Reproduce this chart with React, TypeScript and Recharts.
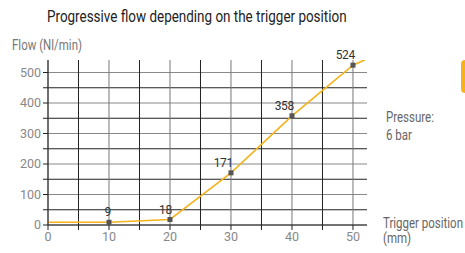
import {
  ComposedChart,
  Line,
  Scatter,
  XAxis,
  YAxis,
  ReferenceLine,
  LabelList,
} from "recharts";

const positions = [0, 10, 20, 30, 40, 50, 52];
const flows = [9, 9, 18, 171, 358, 524, 542];
const markedPositions = [10, 20, 30, 40, 50];
const markedFlows = [9, 18, 171, 358, 524];
const xTicks = [0, 5, 10, 15, 20, 25, 30, 35, 40, 45, 50];
const yTicks = [0, 50, 100, 150, 200, 250, 300, 350, 400, 450, 500];

const FONT = 'Roboto, "Noto Sans", sans-serif';

const lineData = positions.map((x, i) => ({ x, flow: flows[i] }));
const markData = markedPositions.map((x, i) => ({ x, flow: markedFlows[i] }));

const Square = (props: any) => (
  <rect x={props.cx - 2.5} y={props.cy - 2.5} width={5} height={5} fill="#555" />
);

const PointLabel = (props: any) => (
  <text
    x={props.x + props.width / 2 + 2}
    y={props.y + props.height / 2 - 6}
    textAnchor="end"
    fontSize={12}
    fill="#333"
    fontFamily={FONT}
    letterSpacing={-0.3}
  >
    {props.value}
  </text>
);

const narrow = (left: number, top: number, size: number, color: string): any => ({
  position: "absolute",
  left,
  top,
  fontSize: size,
  color,
  whiteSpace: "nowrap",
  transform: "scaleX(0.82)",
  transformOrigin: "left top",
});

export default function App() {
  return (
    <div
      style={{
        position: "absolute",
        left: 0,
        top: 0,
        width: 465,
        height: 253,
        background: "#fff",
        fontFamily: FONT,
        overflow: "hidden",
      }}
    >
      <div style={narrow(47, 7, 16.4, "#222")}>Progressive flow depending on the trigger position</div>
      <div style={narrow(12, 37, 14, "#777")}>Flow (Nl/min)</div>
      <div style={{ ...narrow(386, 108, 14, "#666"), lineHeight: "18px" }}>
        Pressure:
        <br />6 bar
      </div>
      <div style={{ ...narrow(383, 216, 14, "#666"), lineHeight: "15px" }}>
        Trigger position
        <br />(mm)
      </div>
      <div
        style={{
          position: "absolute",
          left: 461,
          top: 60,
          width: 10,
          height: 33,
          background: "#F5B21B",
          borderRadius: 4,
        }}
      />
      <ComposedChart
        width={465}
        height={253}
        margin={{ top: 60, right: 98, bottom: 0, left: 0 }}
        style={{ position: "absolute", left: 0, top: 0 }}
      >
        {yTicks.map((v) => (
          <ReferenceLine
            key={"h" + v}
            y={v}
            stroke={v % 100 === 0 ? "#888" : "#222"}
            strokeWidth={1}
          />
        ))}
        {xTicks.map((v) => (
          <ReferenceLine
            key={"v" + v}
            x={v}
            stroke={v % 10 === 0 ? "#777" : "#222"}
            strokeWidth={1}
          />
        ))}
        <XAxis
          type="number"
          dataKey="x"
          domain={[0, 52.3]}
          ticks={xTicks}
          height={28}
          tickSize={5}
          tickLine={{ stroke: "#222" }}
          axisLine={{ stroke: "#222" }}
          tickFormatter={(v: number) => (v % 10 === 0 ? String(v) : "")}
          tick={{ fill: "#888", fontSize: 12.5, fontFamily: FONT }}
          allowDuplicatedCategory={false}
        />
        <YAxis
          type="number"
          dataKey="flow"
          domain={[0, 541]}
          ticks={yTicks}
          width={48}
          tickSize={5}
          tickLine={{ stroke: "#222" }}
          axisLine={{ stroke: "#222" }}
          tickFormatter={(v: number) => (v % 100 === 0 ? String(v) : "")}
          tick={{ fill: "#888", fontSize: 12.5, fontFamily: FONT }}
          allowDataOverflow
        />
        <Line
          data={lineData}
          dataKey="flow"
          type="linear"
          stroke="#F5B21B"
          strokeWidth={1.6}
          dot={false}
          activeDot={false}
          isAnimationActive={false}
        />
        <Scatter data={markData} dataKey="flow" shape={<Square />} isAnimationActive={false}>
          <LabelList dataKey="flow" content={<PointLabel />} />
        </Scatter>
      </ComposedChart>
    </div>
  );
}
